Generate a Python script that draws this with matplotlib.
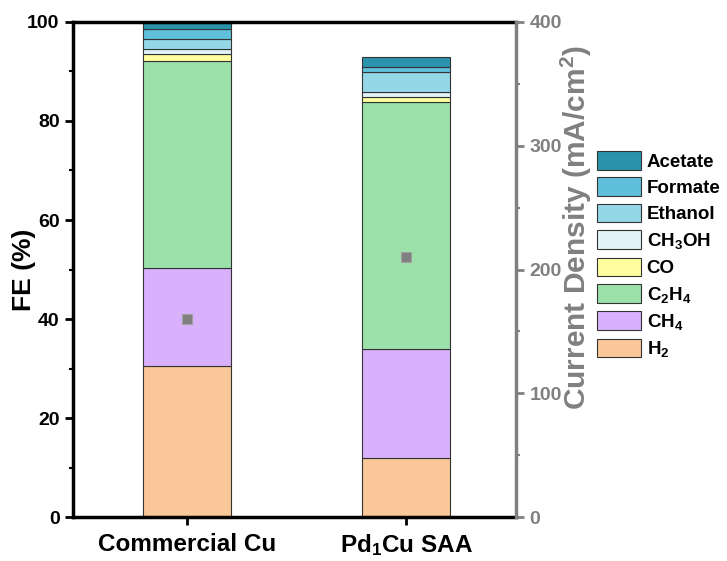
import numpy as np
import matplotlib.pyplot as plt
from matplotlib.ticker import MultipleLocator

catalysts = ['Commercial Cu', 'Pd$_1$Cu SAA']
products = ['H$_2$', 'CH$_4$', 'C$_2$H$_4$', 'CO', 'CH$_3$OH', 'Ethanol', 'Formate', 'Acetate']
colors = ['#fac898', '#d8b0fc', '#9ce0aa', '#ffffa0', '#e0f4f8', '#94d8e8', '#60c0dc', '#2a94ac']

# faradaic efficiency (%) per product, one row per catalyst
fe = np.array([
    [30.6, 19.8, 41.8, 1.4, 1.0, 2.0, 1.9, 1.3],
    [12.0, 21.9, 50.0, 0.9, 1.0, 4.0, 1.0, 2.1],
])
current_density = [160, 210]  # mA/cm2

plt.rcParams['font.family'] = ['Liberation Sans', 'DejaVu Sans']
plt.rcParams['font.weight'] = 'bold'
plt.rcParams['mathtext.fontset'] = 'custom'
plt.rcParams['mathtext.rm'] = 'Liberation Sans:bold'
plt.rcParams['mathtext.it'] = 'Liberation Sans:bold'
plt.rcParams['mathtext.bf'] = 'Liberation Sans:bold'
plt.rcParams['mathtext.default'] = 'rm'

fig = plt.figure(figsize=(7.27, 5.61), dpi=100)
ax = fig.add_axes([0.100, 0.078, 0.610, 0.883])
x = np.array([1, 2])
bottom = np.zeros(2)
for i in range(len(products)):
    ax.bar(x, fe[:, i], 0.4, bottom=bottom, color=colors[i],
           edgecolor='#333333', linewidth=0.8, label=products[i], zorder=2)
    bottom += fe[:, i]

ax.set_xlim(0.48, 2.5)
ax.set_ylim(0, 100)
ax.set_xticks(x)
ax.set_xticklabels(catalysts, fontsize=17.5, fontweight='bold')
ax.set_ylabel('FE (%)', fontsize=19, fontweight='bold')
ax.yaxis.set_label_coords(-0.083, 0.5)
ax.yaxis.set_major_locator(MultipleLocator(20))
ax.yaxis.set_minor_locator(MultipleLocator(10))
ax.tick_params(axis='y', which='major', labelsize=14, width=2, length=6)
ax.tick_params(axis='y', which='minor', width=1.5, length=3)
ax.tick_params(axis='x', width=2, length=6, pad=5)
for s in ['left', 'bottom', 'top']:
    ax.spines[s].set_linewidth(2.5)
ax.spines['right'].set_visible(False)

ax2 = ax.twinx()
ax2.plot(x, current_density, 's', color='#808080', markersize=7,
         markeredgecolor='#a0a0a0', markeredgewidth=0.8, zorder=3)
ax2.set_ylim(0, 400)
ax2.yaxis.set_major_locator(MultipleLocator(100))
ax2.yaxis.set_minor_locator(MultipleLocator(50))
ax2.set_ylabel('Current Density (mA/cm$^2$)', fontsize=21.5, fontweight='bold',
               color='#808080')
ax2.yaxis.set_label_coords(1.097, 0.585)
ax2.tick_params(axis='y', which='major', labelsize=14, width=2, length=6,
                colors='#808080', labelcolor='#808080')
ax2.tick_params(axis='y', which='minor', width=1.5, length=3, colors='#808080')
ax2.spines['right'].set_color('#808080')
ax2.spines['right'].set_linewidth(2.5)
for s in ['left', 'bottom', 'top']:
    ax2.spines[s].set_visible(False)

handles, labels = ax.get_legend_handles_labels()
leg = fig.legend(handles[::-1], labels[::-1], loc='upper left',
                 bbox_to_anchor=(0.821, 0.731), frameon=False,
                 borderpad=0, borderaxespad=0,
                 handlelength=2.35, handleheight=1.15, labelspacing=0.36,
                 handletextpad=0.3, prop={'weight': 'bold', 'size': 13.5})

fig.savefig('out.png', dpi=100)
